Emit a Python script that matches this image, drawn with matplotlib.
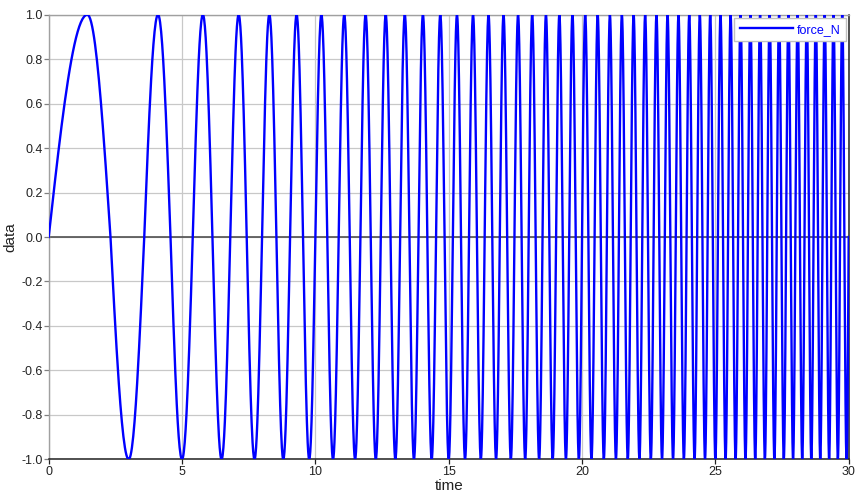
import numpy as np
import matplotlib
matplotlib.use("Agg")
import matplotlib.pyplot as plt

plt.rcParams['font.family'] = ['Liberation Sans', 'DejaVu Sans']
plt.rcParams['axes.unicode_minus'] = False

series_name = "force_N"

# Times of successive peaks / troughs of force_N (first one is a peak at +1)
turning_times = [
    1.449, 3.000, 4.099, 5.000, 5.782, 6.483, 7.124, 7.718, 8.274, 8.798,
    9.296, 9.770, 10.225, 10.662, 11.083, 11.490, 11.884, 12.266, 12.638, 13.000,
    13.353, 13.697, 14.033, 14.362, 14.684, 15.000, 15.310, 15.613, 15.912, 16.205,
    16.493, 16.776, 17.055, 17.330, 17.601, 17.868, 18.131, 18.391, 18.647, 18.900,
    19.149, 19.396, 19.640, 19.881, 20.119, 20.354, 20.587, 20.817, 21.045, 21.271,
    21.494, 21.716, 21.935, 22.152, 22.367, 22.580, 22.791, 23.000, 23.207, 23.413,
    23.617, 23.819, 24.020, 24.219, 24.417, 24.612, 24.807, 25.000, 25.192, 25.382,
    25.571, 25.758, 25.944, 26.129, 26.313, 26.495, 26.677, 26.857, 27.036, 27.213,
    27.390, 27.566, 27.740, 27.914, 28.086, 28.257, 28.428, 28.597, 28.766, 28.933,
    29.100, 29.266, 29.430, 29.594, 29.757, 29.919,
]
# Times where force_N crosses zero (start and end of record included)
zero_times = [
    0.000, 2.317, 3.583, 4.568, 5.403, 6.141, 6.810, 7.426, 8.000, 8.539,
    9.050, 9.536, 10.000, 10.446, 10.874, 11.288, 11.689, 12.077, 12.454, 12.820,
    13.177, 13.526, 13.866, 14.199, 14.524, 14.843, 15.155, 15.462, 15.763, 16.059,
    16.349, 16.635, 16.917, 17.193, 17.466, 17.735, 18.000, 18.261, 18.519, 18.774,
    19.025, 19.273, 19.518, 19.761, 20.000, 20.237, 20.471, 20.703, 20.932, 21.159,
    21.383, 21.605, 21.825, 22.043, 22.259, 22.473, 22.685, 22.896, 23.104, 23.311,
    23.515, 23.718, 23.920, 24.120, 24.318, 24.515, 24.710, 24.904, 25.096, 25.287,
    25.476, 25.665, 25.851, 26.037, 26.221, 26.404, 26.586, 26.767, 26.946, 27.125,
    27.302, 27.478, 27.653, 27.827, 28.000, 28.172, 28.343, 28.513, 28.682, 28.850,
    29.017, 29.183, 29.348, 29.512, 29.676, 29.838, 30.000,
]

x_ticks = [0, 5, 10, 15, 20, 25, 30]
y_ticks = [-1.0, -0.8, -0.6, -0.4, -0.2, 0.0, 0.2, 0.4, 0.6, 0.8, 1.0]

# Knots alternate zero crossing / turning point; each knot advances the phase by a quarter wave
knot_t = np.sort(np.array(zero_times + turning_times))
knot_phase = (np.pi / 2) * np.arange(len(knot_t))
t = np.concatenate([np.linspace(a, b, 24, endpoint=False)
                    for a, b in zip(knot_t[:-1], knot_t[1:])] + [[knot_t[-1]]])
y = np.sin(np.interp(t, knot_t, knot_phase))

fig = plt.figure(figsize=(8.59, 4.94), dpi=100)
ax = fig.add_axes([48.7 / 859, 1 - 459.3 / 494, 800 / 859, 444.6 / 494])

ax.plot(t, y, color='#0000ff', lw=1.7, label=series_name, zorder=3)
ax.axhline(0, color='#505050', lw=1.2, zorder=2)

ax.set_xlim(0, 30)
ax.set_ylim(-1.0, 1.0)
ax.set_xticks(x_ticks)
ax.set_xticklabels([str(v) for v in x_ticks])
ax.set_yticks(y_ticks)
ax.set_yticklabels([f"{v:.1f}" for v in y_ticks])
ax.grid(True, color='#c8c8c8', lw=0.9, zorder=0)
ax.set_axisbelow(True)

for side in ('left', 'top'):
    ax.spines[side].set_color('#a0a0a0')
    ax.spines[side].set_linewidth(1.0)
for side in ('right', 'bottom'):
    ax.spines[side].set_color('#202020')
    ax.spines[side].set_linewidth(1.1)

ax.tick_params(axis='y', direction='out', length=3.5, width=0.9, color='#808080',
               labelsize=9, labelcolor='#222222', pad=1)
ax.tick_params(axis='x', direction='out', length=3.5, width=0.9, color='#202020',
               labelsize=9, labelcolor='#222222', pad=1)

ax.set_xlabel("time", fontsize=11, color='#222222', labelpad=1)
ax.set_ylabel("data", fontsize=11, color='#222222', labelpad=3)

leg = ax.legend(loc='upper right', bbox_to_anchor=(0.9963, 0.9926), borderaxespad=0,
                fontsize=9, frameon=True, fancybox=False, framealpha=1,
                edgecolor='#c0c0c0', handlelength=4.2, handletextpad=0.3,
                borderpad=0.45, labelcolor='#0000ff')
leg.get_frame().set_linewidth(1.0)

fig.savefig("out.png", dpi=100)
